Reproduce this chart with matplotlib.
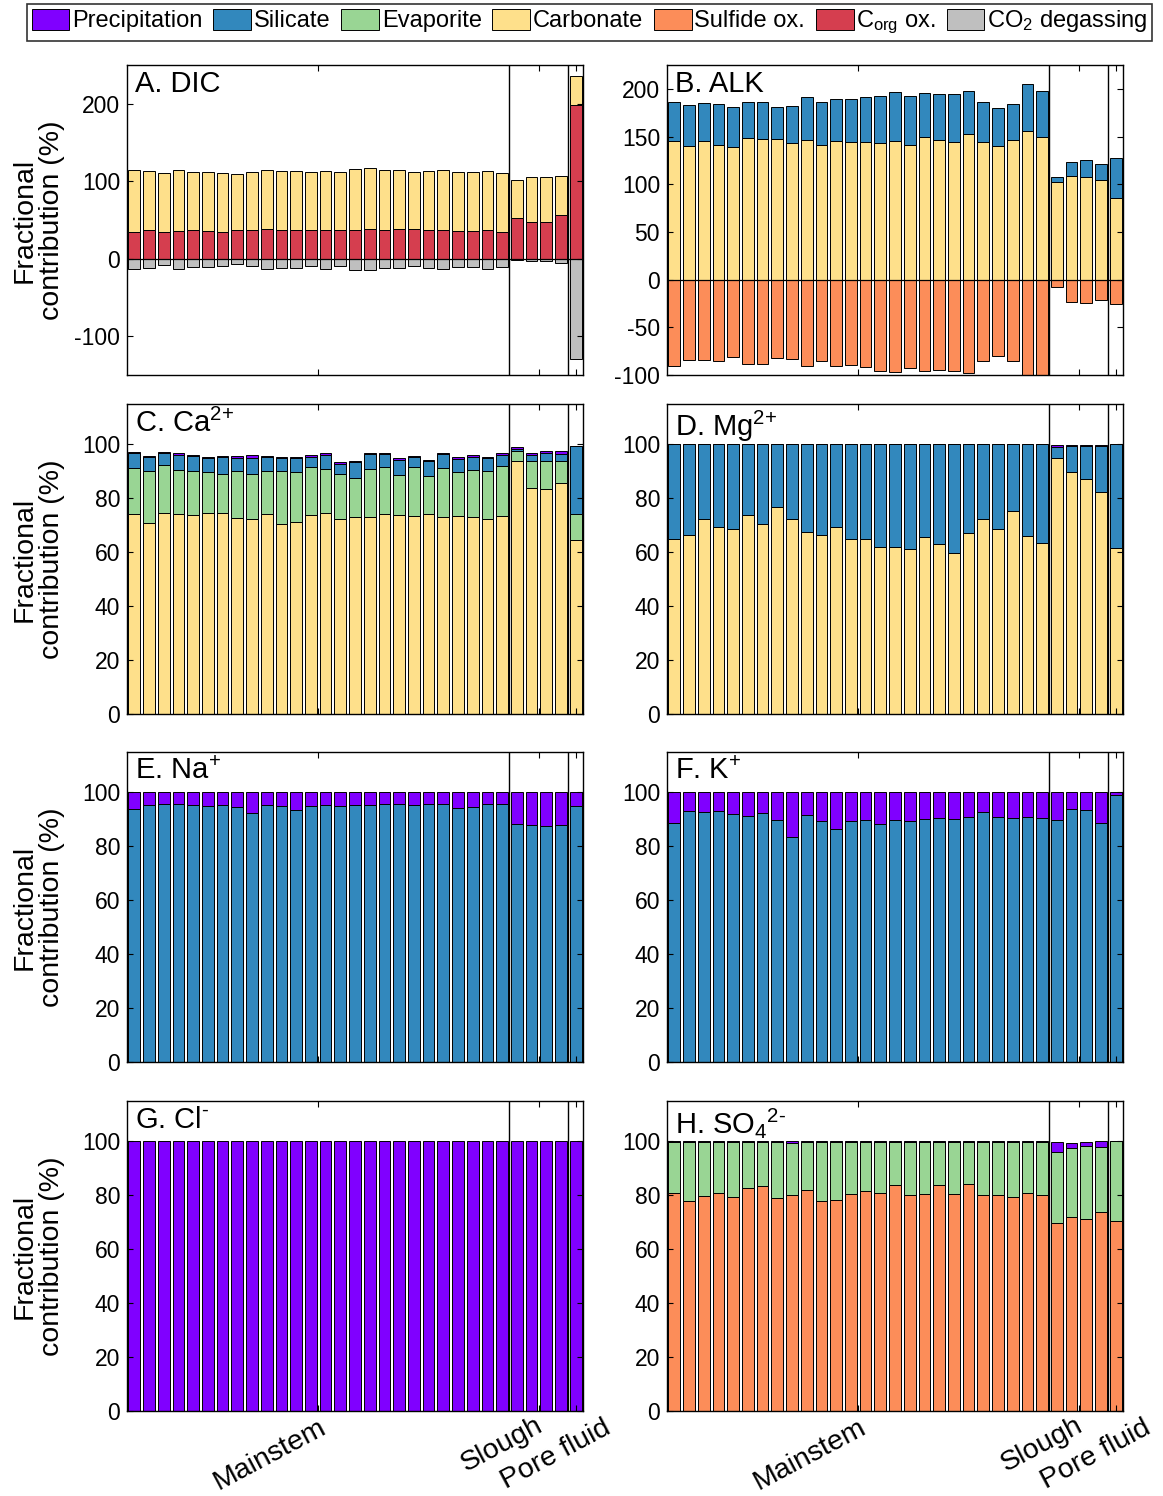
import numpy as np
import matplotlib
matplotlib.use('Agg')
import matplotlib.pyplot as plt
from matplotlib.patches import Patch

plt.rcParams['font.family'] = ['Liberation Sans', 'DejaVu Sans']
plt.rcParams['mathtext.fontset'] = 'custom'
plt.rcParams['mathtext.rm'] = 'Liberation Sans'
plt.rcParams['mathtext.it'] = 'Liberation Sans'
plt.rcParams['mathtext.default'] = 'regular'
plt.rcParams['axes.unicode_minus'] = False

# source colours
c_prec = '#8000ff'
c_sil = '#3288bd'
c_evap = '#99d594'
c_carb = '#fee08b'
c_sulf = '#fc8d59'
c_corg = '#d53e4f'
c_co2 = '#bfbfbf'

groups = ['Mainstem', 'Slough', 'Pore fluid']
n_main, n_slough, n_pore = 26, 4, 1
x = np.arange(1, n_main + n_slough + n_pore + 1)

# A. DIC
dic_corg = [34, 37, 34, 36, 37, 36, 35, 37, 37, 39, 37, 37, 37, 37.5, 37.5, 37.5, 39, 37, 38, 38,
            37.5, 37, 36, 36, 37.5, 35, 52, 47, 48, 56.5, 199]
dic_carb = [80, 76, 77, 78, 75, 76, 76, 73, 75, 76, 76, 76, 75, 75.5, 75, 78, 78, 77, 76, 74,
            75.5, 77, 76, 76, 75.5, 76, 50, 58, 57, 50, 37]
dic_co2 = [-13, -12, -8, -13, -11, -11, -9, -7, -9.5, -13, -12, -12, -9.5, -13, -9.5, -14, -15, -12, -12, -9,
           -12, -13, -11, -11, -13, -10, -1, -3.5, -3.5, -5, -129]

# B. ALK
alk_carb = [145, 140, 145, 141, 139, 148, 147, 147, 143, 146, 141, 145.5, 144, 144, 143, 145, 141, 149, 146, 144,
            152.5, 144, 140, 146, 156, 150, 102, 109, 108, 104, 86]
alk_sil = [41, 43, 40, 43, 42, 38, 39, 34, 39, 45, 45, 43.5, 45, 47, 49, 52, 51.5, 47, 49, 50.5,
           45, 42, 39.5, 38.5, 49, 48, 6, 14, 17, 17, 42]
alk_sulf = [-91, -84, -84, -85, -81, -88.5, -88, -82, -83, -91, -85, -91, -89, -92, -95.5, -97, -93, -96, -95, -95.5,
            -98, -85, -80, -85, -102, -101, -8, -23, -24, -21, -26]

# C. Ca2+
ca_carb = [74.3, 70.8, 74.7, 74.2, 73.7, 74.7, 74.7, 72.6, 72.5, 74.1, 70.4, 71.1, 73.9, 74.5, 72.2, 73.1, 73.2, 74.3,
           73.7, 73.4, 74.3, 73, 73.6, 73, 72.2, 73.6, 93.8, 83.8, 83.3, 85.6, 64.4]
ca_evap = [16.8, 19.2, 17.5, 16.3, 16.6, 14.9, 14.5, 17.6, 16.7, 15.9, 19.6, 18.6, 17.6, 16.5, 16.8, 14.6, 17.8, 17.4,
           15.1, 18.1, 14.1, 18.1, 16, 17.6, 17.9, 18.3, 3.7, 9.9, 10.5, 8.2, 9.8]
ca_sil = [5.6, 5.2, 4.5, 5.5, 5.4, 5.3, 6, 4.8, 5.8, 5.2, 4.8, 5.1, 3.7, 5.2, 3.6, 5.7, 5.4, 4.6,
          5.5, 3.7, 5.3, 5.4, 4.9, 4.6, 4.8, 4.1, 0.8, 2.5, 2.9, 2.6, 25.3]
ca_prec = [0.6, 0.5, 0.4, 0.7, 0.5, 0.6, 0.6, 0.7, 0.9, 0.6, 0.6, 0.7, 0.7, 0.8, 0.7, 0.4, 0.6, 0.7,
           0.5, 0.6, 0.7, 0.5, 0.7, 0.7, 0.6, 0.8, 0.7, 0.8, 0.7, 1.0, 0.1]

# D. Mg2+
mg_carb = [65.1, 66.5, 72.2, 69.3, 68.8, 73.8, 70.5, 76.9, 72.3, 67.7, 66.3, 69.2, 65, 64.9, 61.8, 62.1, 61.1, 65.7,
           63.1, 59.7, 67.1, 72.2, 68.6, 75.2, 66.2, 63.4, 94.9, 89.6, 87.1, 82.3, 61.6]
mg_sil = [34.9, 33.5, 27.8, 30.7, 31.2, 26.2, 29.5, 23.1, 27.7, 32.3, 33.7, 30.8, 35, 35.1, 38.2, 37.9, 38.9, 34.3,
          36.9, 40.3, 32.9, 27.8, 31.4, 24.8, 33.8, 36.6, 4.0, 9.8, 12.3, 17.2, 38.4]
mg_prec = [0, 0, 0, 0, 0, 0, 0, 0, 0, 0, 0, 0, 0, 0, 0, 0, 0, 0,
           0, 0, 0, 0, 0, 0, 0, 0, 0.9, 0.4, 0.4, 0.3, 0]

# E. Na+
na_sil = [93.8, 95.5, 95.7, 95.7, 95.2, 95, 95.5, 94.7, 92.3, 95.3, 94.9, 93.4, 94.8, 95.3, 95, 95.5, 95.5, 95.7,
          95.7, 95.5, 95.8, 95.7, 94.4, 94.7, 95.7, 95.7, 88.2, 88, 87.5, 87.9, 95]
na_prec = [6.2, 4.5, 4.3, 4.3, 4.8, 5, 4.5, 5.3, 7.7, 4.7, 5.1, 6.6, 5.2, 4.7, 5, 4.5, 4.5, 4.3,
           4.3, 4.5, 4.2, 4.3, 5.6, 5.3, 4.3, 4.3, 11.8, 12, 12.5, 12.1, 5]

# F. K+
k_sil = [88.5, 93.1, 92.7, 93.1, 92, 91.2, 92.2, 89.9, 83.6, 91.6, 89.5, 86.5, 89.4, 89.8, 88.4, 89.8, 89.5, 90,
         90.4, 90.2, 90.9, 92.7, 90.9, 90.4, 91, 90.7, 89.6, 93.8, 93.5, 88.6, 99]
k_prec = [11.5, 6.9, 7.3, 6.9, 8, 8.8, 7.8, 10.1, 16.4, 8.4, 10.5, 13.5, 10.6, 10.2, 11.6, 10.2, 10.5, 10,
          9.6, 9.8, 9.1, 7.3, 9.1, 9.6, 9, 9.3, 10.4, 6.2, 6.5, 11.4, 1]

# G. Cl-
cl_prec = [100, 100, 100, 100, 100, 100, 100, 100, 100, 100, 100, 100, 100, 100, 100, 100, 100, 100,
           100, 100, 100, 100, 100, 100, 100, 100, 100, 100, 100, 100, 100]

# H. SO4 2-
so4_sulf = [80.7, 77.8, 79.8, 80.7, 79.5, 82.6, 83.5, 78.9, 80, 82.1, 77.9, 78.4, 80.5, 81.5, 80.9, 84, 80.2, 80.6,
            83.7, 80.4, 84.1, 80, 80.1, 79.3, 80.9, 80.2, 69.8, 71.8, 71.4, 74, 70.6]
so4_evap = [19.1, 22, 20, 19.1, 20.3, 17.2, 16.3, 20.9, 19.3, 17.7, 21.9, 21.4, 19.3, 18.3, 18.9, 15.8, 19.6, 19.2,
            16.1, 19.4, 15.7, 19.8, 19.7, 20.5, 18.9, 19.6, 26.1, 25.8, 27, 24.1, 29.4]
so4_prec = [0.2, 0.2, 0.2, 0.2, 0.2, 0.2, 0.2, 0.2, 0.7, 0.2, 0.2, 0.2, 0.2, 0.2, 0.2, 0.2, 0.2, 0.2,
            0.2, 0.2, 0.2, 0.2, 0.2, 0.2, 0.2, 0.2, 3.9, 1.8, 1.5, 1.9, 0]


def stacked(ax, layers, neg=None):
    bottom = np.zeros(len(x))
    for vals, col in layers:
        v = np.array(vals, dtype=float)
        ax.bar(x, v, 0.8, bottom=bottom, color=col, edgecolor='k', linewidth=0.7)
        bottom += v
    if neg is not None:
        ax.bar(x, neg[0], 0.8, color=neg[1], edgecolor='k', linewidth=0.7)


fig = plt.figure(figsize=(11.63, 14.96), dpi=100)

W, H = 1163, 1496
lefts = [127, 667]
tops = [65, 404, 752, 1101]
aw, ah = 456, 310

pct_ticks = list(range(0, 101, 20))
panels = [
    ('A. DIC', [(dic_corg, c_corg), (dic_carb, c_carb)], (dic_co2, c_co2), (-150, 250), [-100, 0, 100, 200]),
    ('B. ALK', [(alk_carb, c_carb), (alk_sil, c_sil)], (alk_sulf, c_sulf), (-100, 225), list(range(-100, 201, 50))),
    ('C. Ca$^{\\text{2+}}$', [(ca_carb, c_carb), (ca_evap, c_evap), (ca_sil, c_sil), (ca_prec, c_prec)], None, (0, 115), pct_ticks),
    ('D. Mg$^{\\text{2+}}$', [(mg_carb, c_carb), (mg_sil, c_sil), (mg_prec, c_prec)], None, (0, 115), pct_ticks),
    ('E. Na$^{\\text{+}}$', [(na_sil, c_sil), (na_prec, c_prec)], None, (0, 115), pct_ticks),
    ('F. K$^{\\text{+}}$', [(k_sil, c_sil), (k_prec, c_prec)], None, (0, 115), pct_ticks),
    ('G. Cl$^{\\text{-}}$', [(cl_prec, c_prec)], None, (0, 115), pct_ticks),
    ('H. SO$_4{}^{\\text{2-}}$', [(so4_sulf, c_sulf), (so4_evap, c_evap), (so4_prec, c_prec)], None, (0, 115), pct_ticks),
]

for i, (title, layers, neg, ylim, yticks) in enumerate(panels):
    row, col = divmod(i, 2)
    ax = fig.add_axes([lefts[col] / W, 1 - (tops[row] + ah) / H, aw / W, ah / H])
    stacked(ax, layers, neg)
    if neg is not None:
        ax.axhline(0, color='k', lw=0.9)
    ax.axvline(n_main + 0.5, color='k', lw=1.0)
    ax.axvline(n_main + n_slough + 0.5, color='k', lw=1.0)
    ax.set_xlim(0.5, len(x) + 0.5)
    ax.set_ylim(*ylim)
    ax.set_yticks(yticks)
    ax.set_xticks([(1 + n_main) / 2, n_main + (1 + n_slough) / 2, len(x)])
    ax.set_xticklabels([])
    ax.tick_params(direction='in', top=True, right=True, length=4, width=0.8, labelsize=16.5, pad=5)
    for s in ax.spines.values():
        s.set_linewidth(1.0)
    ax.text(0.018, 0.985, title, transform=ax.transAxes, ha='left', va='top', fontsize=21)
    if col == 0:
        ax.set_ylabel('Fractional\ncontribution (%)', fontsize=20.5, linespacing=1.05)
        ax.yaxis.set_label_coords(-0.136, 0.5)
    if row == 3:
        tr = ax.get_xaxis_transform()
        for lab, xp, yp in zip(groups, [14.16, 28.85, 33.47], [-0.068, -0.061, -0.071]):
            ax.text(xp, yp, lab, transform=tr, rotation=28, rotation_mode='anchor',
                    ha='right', va='baseline', fontsize=20.5)

handles = [Patch(facecolor=c, edgecolor='k', linewidth=0.7) for c in
           [c_prec, c_sil, c_evap, c_carb, c_sulf, c_corg, c_co2]]
labels = ['Precipitation', 'Silicate', 'Evaporite', 'Carbonate', 'Sulfide ox.',
          'C$_{org}$ ox.', 'CO$_2$ degassing']
leg = fig.legend(handles, labels, loc='center', bbox_to_anchor=(0.507, 0.985), ncol=7, fontsize=17,
                 frameon=True, fancybox=False, edgecolor='k', handlelength=1.6, handleheight=1.0,
                 handletextpad=0.12, columnspacing=0.45, borderpad=0.2, borderaxespad=0)
leg.get_frame().set_linewidth(1.2)

fig.savefig('out.png', dpi=100)
